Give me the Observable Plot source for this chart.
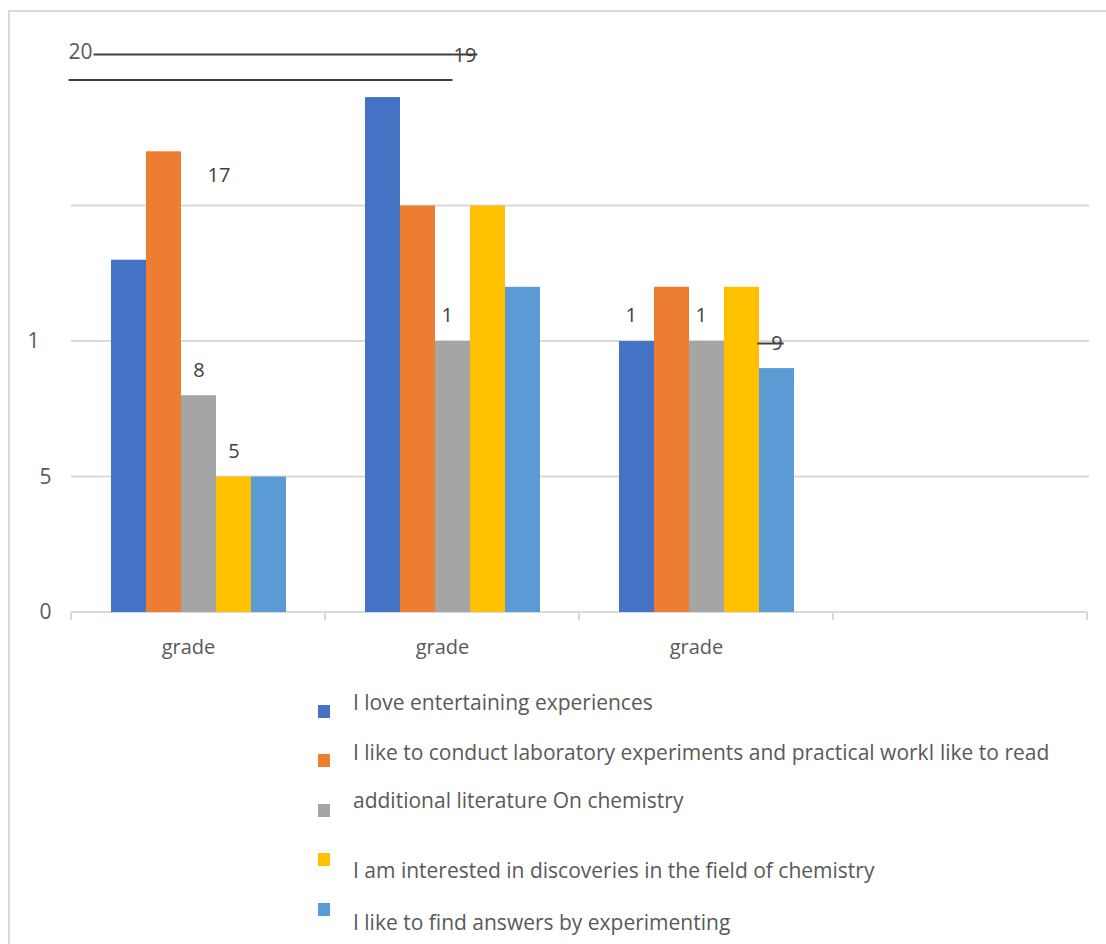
<!DOCTYPE html>
<html>
<head>
<meta charset="utf-8">
<script src="https://cdn.jsdelivr.net/npm/d3@7"></script>
<script src="https://cdn.jsdelivr.net/npm/@observablehq/plot@0.6"></script>
<style>
  html, body { margin: 0; padding: 0; background: #fff; overflow: hidden; }
  body { width: 1106px; height: 944px; position: relative; font-family: "Open Sans", sans-serif; }
  #frame { position: absolute; left: 8px; top: 10px; width: 1130px; height: 960px; border: 2px solid #d9d9d9; box-sizing: border-box; }
  #chart { position: absolute; left: 0; top: 0; }
  #legend { position: absolute; left: 0; top: 0; width: 1106px; height: 944px; pointer-events: none; }
  .swatch { position: absolute; left: 318px; width: 12px; height: 13px; }
  .entry { position: absolute; left: 353px; font-size: 21px; line-height: 1; color: #595959; white-space: nowrap; transform: translateY(-50%); }
</style>
</head>
<body>
<div id="frame"></div>
<div id="chart"></div>
<div id="legend"></div>
<script>
// Category groups along the bottom (the fourth slot is left empty)
const groupKeys = ["grade A", "grade B", "grade C", "blank"];
const groupTicks = ["grade", "grade", "grade", ""];

// Series (legend order) and their colours
const seriesNames = [
  "I love entertaining experiences",
  "I like to conduct laboratory experiments and practical workI like to read",
  "additional literature On chemistry",
  "I am interested in discoveries in the field of chemistry",
  "I like to find answers by experimenting"
];
const seriesColors = ["#4472C4", "#ED7D31", "#A5A5A5", "#FFC000", "#5B9BD5"];

// Values per series, one per grade group
const loveExperiences = [13, 19, 10];
const labWork = [17, 15, 12];
const extraLiterature = [8, 10, 10];
const discoveries = [5, 15, 12];
const findAnswers = [5, 12, 9];

// Value axis
const yTicks = [0, 5, 10];
const gridValues = [5, 10, 15];
const topTick = [20];

// Data labels: group index, series index, label text
const labelGroups = [0, 0, 0, 1, 1, 2, 2, 2];
const labelSeries = [1, 2, 3, 0, 2, 0, 2, 4];
const labelTexts = ["17", "8", "5", "19", "1", "1", "1", "9"];

const seriesValues = [loveExperiences, labWork, extraLiterature, discoveries, findAnswers];

const bars = seriesNames.flatMap((s, si) =>
  seriesValues[si].map((v, gi) => ({group: groupKeys[gi], series: s, value: v}))
);
const labels = labelTexts.map((t, i) => ({
  group: groupKeys[labelGroups[i]],
  series: seriesNames[labelSeries[i]],
  value: seriesValues[labelSeries[i]][labelGroups[i]],
  text: t
}));
const centred = labels.filter((d, i) => [1, 2, 7].includes(i));
const cut = labels.filter((d, i) => [4, 5, 6].includes(i));
const beside = labels.filter((d, i) => i === 0);
const raised = labels.filter((d, i) => i === 3);

const textColor = "#595959";
const labelColor = "#404040";
const gridColor = "#d9d9d9";

const plot = Plot.plot({
  width: 1106,
  height: 662,
  marginLeft: 70,
  marginRight: 18,
  marginTop: 70,
  marginBottom: 50,
  style: {fontFamily: "'Open Sans', sans-serif", background: "transparent", overflow: "visible"},
  fx: {domain: groupKeys, padding: 0},
  x: {domain: seriesNames, paddingInner: 0, paddingOuter: 1.1, axis: null},
  y: {domain: [0, 20], axis: null},
  color: {domain: seriesNames, range: seriesColors},
  marks: [
    Plot.barY(bars, {fx: "group", x: "series", y: "value", fill: "series"}),
    Plot.axisY(yTicks, {
      tickSize: 0, tickPadding: 20, fontSize: 21, fill: textColor, label: null,
      tickFormat: d => d === 10 ? "1\u2007" : String(d)
    }),
    Plot.axisFx({
      anchor: "bottom", tickSize: 0, tickPadding: 27, fontSize: 20, fill: textColor, label: null, dx: -10,
      tickFormat: d => groupTicks[groupKeys.indexOf(d)]
    }),
    Plot.text(topTick, {
      fx: () => groupKeys[0], y: d => d, text: d => String(d), frameAnchor: "left",
      textAnchor: "start", dx: -3, dy: -18, fontSize: 21, fill: textColor, className: "top-tick"
    }),
    Plot.text(centred, {
      fx: "group", x: "series", y: "value", text: "text", dy: -25,
      fontSize: 20, fill: labelColor, className: "centred-label"
    }),
    Plot.text(cut, {
      fx: "group", x: "series", y: "value", text: "text", dy: -26, textAnchor: "end",
      fontSize: 20, fill: labelColor
    }),
    Plot.text(beside, {
      fx: "group", x: "series", y: "value", text: "text", dx: 55, dy: 24,
      fontSize: 20, fill: labelColor
    }),
    Plot.text(raised, {
      fx: "group", x: "series", y: "value", text: "text", dx: 82, dy: -42,
      fontSize: 20, fill: labelColor, className: "raised-label"
    })
  ]
});

document.getElementById("chart").appendChild(plot);

// Gridlines, baseline and boundary ticks span every group slot, including the empty one
const svg = d3.select(plot);
const fxScale = plot.scale("fx");
const yScale = plot.scale("y");
const y0 = yScale.apply(0);
const bw = fxScale.bandwidth;
const edges = groupKeys.map(k => fxScale.apply(k)).concat([fxScale.apply(groupKeys[groupKeys.length - 1]) + bw]);
const xStart = edges[0];
const xEnd = edges[edges.length - 1] + 2;

const under = svg.insert("g", ":first-child");
under.selectAll("line.grid").data(gridValues).join("line")
  .attr("class", "grid")
  .attr("x1", xStart).attr("x2", xEnd)
  .attr("y1", d => yScale.apply(d)).attr("y2", d => yScale.apply(d))
  .attr("stroke", gridColor).attr("stroke-width", 2);
under.append("line")
  .attr("x1", xStart).attr("x2", xEnd - 2)
  .attr("y1", y0).attr("y2", y0)
  .attr("stroke", gridColor).attr("stroke-width", 2);
under.selectAll("line.edge").data(edges).join("line")
  .attr("class", "edge")
  .attr("x1", d => d).attr("x2", d => d)
  .attr("y1", y0).attr("y2", y0 + 8)
  .attr("stroke", gridColor).attr("stroke-width", 2);

// Leader lines beside the displaced data labels
function box(node) {
  if (!node) return null;
  const b = node.getBBox();
  const m = plot.getCTM().inverse().multiply(node.getCTM());
  const pt = plot.createSVGPoint();
  pt.x = b.x; pt.y = b.y;
  const p1 = pt.matrixTransform(m);
  pt.x = b.x + b.width; pt.y = b.y + b.height;
  const p2 = pt.matrixTransform(m);
  return {x1: p1.x, y1: p1.y, x2: p2.x, y2: p2.y};
}

const deco = svg.append("g");
const b20 = box(svg.select(".top-tick text").node());
const b19 = box(svg.select(".raised-label text").node());
const centredNodes = svg.selectAll(".centred-label text").nodes();
const b9 = box(centredNodes[centredNodes.length - 1]);

const leaderColor = "#404040";
if (b20 && b19) {
  const yMid = (b19.y1 + b19.y2) / 2;
  deco.append("line").attr("x1", b20.x2 + 1).attr("x2", b19.x2 + 1)
    .attr("y1", yMid).attr("y2", yMid).attr("stroke", leaderColor).attr("stroke-width", 2);
  const yLow = yScale.apply(20) + 10;
  deco.append("line").attr("x1", b20.x1).attr("x2", b19.x1 - 1)
    .attr("y1", yLow).attr("y2", yLow).attr("stroke", leaderColor).attr("stroke-width", 2);
}
if (b9) {
  const yMid = (b9.y1 + b9.y2) / 2 + 1;
  deco.append("line").attr("x1", b9.x1 - 14).attr("x2", b9.x2 + 1)
    .attr("y1", yMid).attr("y2", yMid).attr("stroke", leaderColor).attr("stroke-width", 2);
}

// Legend below the chart
const swatchTops = [705, 754, 804, 853, 903];
const entryMids = [702, 752, 800, 870, 922];
const legend = d3.select("#legend");
seriesNames.forEach((name, i) => {
  legend.append("div").attr("class", "swatch")
    .style("top", swatchTops[i] + "px").style("background", seriesColors[i]);
  legend.append("div").attr("class", "entry")
    .style("top", entryMids[i] + "px").text(name);
});
</script>
</body>
</html>
